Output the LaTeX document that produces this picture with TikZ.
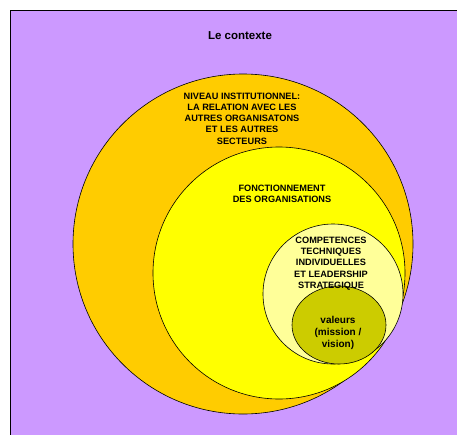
\documentclass[tikz,border=0pt]{standalone}
\usepackage{fontspec}
\setmainfont{Liberation Sans}
\usepackage{xcolor}
\usepackage{tikz}
\usetikzlibrary{positioning}

\definecolor{contexte}{HTML}{CC99FF}
\definecolor{institution}{HTML}{FFCC00}
\definecolor{fonction}{HTML}{FFFF00}
\definecolor{competence}{HTML}{FFFF99}
\definecolor{valeur}{HTML}{CCCC00}

\tikzset{
    ring/.style={line width=0.6pt, draw=black},
    label text/.style={align=center, font=\bfseries\fontsize{9.2}{11.3}\selectfont, inner sep=0pt}
}

\begin{document}
\begin{tikzpicture}[x=1pt,y=-1pt]
                \useasboundingbox (0,0) rectangle (457,434);
                \clip (0,0) rectangle (457,434);

                \draw[
                    line width=0.8pt,
                    fill=contexte
                    ] (10,10) rectangle (470,450);

                \draw[ring, fill=institution] (243,244) circle[radius=170pt];
                \draw[ring, fill=fonction] (279,273) circle[radius=126pt];
                \draw[ring, fill=competence] (333,294) circle[radius=70pt];
                \draw[ring, fill=valeur] (339,325) ellipse[x radius=47pt, y radius=39pt];

                \node[label text, font=\bfseries\fontsize{11.5}{13}\selectfont] (contexte) at (240,36) {Le contexte};
                \node[label text] (institution) at (242,118.5) {NIVEAU INSTITUTIONNEL:\\LA RELATION AVEC LES\\AUTRES ORGANISATONS\\ET LES AUTRES\\SECTEURS};
                \node[label text] (fonction) at (282,193.5) {FONCTIONNEMENT\\DES ORGANISATIONS};
                \node[label text] (competence) at (331,263.5) {COMPETENCES\\TECHNIQUES\\INDIVIDUELLES\\ET LEADERSHIP\\STRATEGIQUE};
                \node[label text, font=\bfseries\fontsize{10}{12.2}\selectfont] (valeur) at (338,333) {valeurs\\(mission /\\vision)};
\end{tikzpicture}
\end{document}
